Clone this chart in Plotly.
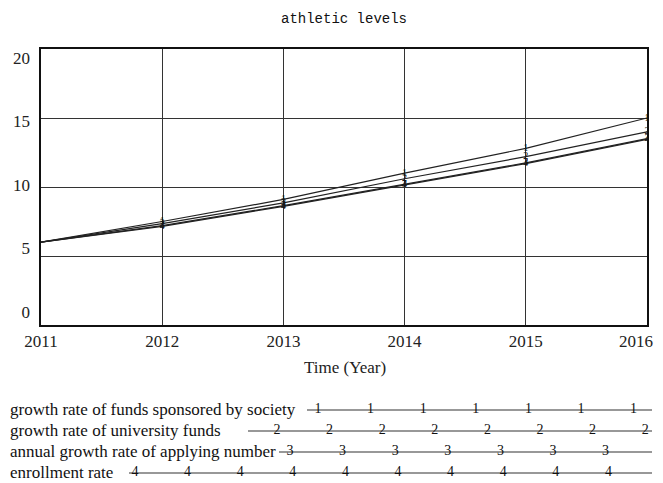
import plotly.graph_objects as go

# ---------------- data ----------------
years = [2011, 2012, 2013, 2014, 2015, 2016]
society_funds = [6.0, 7.5, 9.1, 11.0, 12.8, 15.0]
university_funds = [6.0, 7.35, 8.85, 10.6, 12.2, 14.0]
applying_growth = [6.0, 7.2, 8.65, 10.2, 11.75, 13.5]
enrollment_rate = [6.0, 7.15, 8.6, 10.15, 11.7, 13.45]

series_names = [
    "growth rate of funds sponsored by society",
    "growth rate of university funds",
    "annual growth rate of applying number",
    "enrollment rate",
]
series_digits = ["1", "2", "3", "4"]
series_values = [society_funds, university_funds, applying_growth, enrollment_rate]

y_ticks = [0, 5, 10, 15, 20]
x_ticks = years
x_tick_labels = [str(v) for v in x_ticks]

# ---------------- layout constants (page pixels) ----------------
OFF = 8                      # page body margin
W, H = 663 - OFF, 483 - OFF  # figure size
M_TOP, M_BOT = 49 - OFF, 2
PH = H - M_TOP - M_BOT
X_LEFT, X_RIGHT = 41, 647
Y_TOP, Y_BOTTOM = 49, 325
VISIBLE_RIGHT = 655
SERIF = "Liberation Serif, Times New Roman, serif"
FONT_SIZE = 17
CLEAR = "rgba(0,0,0,0)"


def px(p):
    return (p - OFF) / W


def py(p):
    return (H - M_BOT - (p - OFF)) / PH


# legend rows (page pixels)
leg_rows_y = [410, 431, 452, 473]
leg_line_start = [307, 248, 279, 129]
leg_first_digit = [318, 277, 290, 135]
leg_digit_count = [7, 8, 7, 10]
leg_spacing = 52.6
leg_line_end = 652

fig = go.Figure()

# invisible carrier for the tick-label axis (drawn first, underneath)
fig.add_trace(go.Scatter(x=[years[0]], y=[y_ticks[0]], mode="markers",
                         marker=dict(opacity=0), showlegend=False,
                         hoverinfo="skip", xaxis="x3", yaxis="y3"))

for name, dig, vals in zip(series_names, series_digits, series_values):
    fig.add_trace(go.Scatter(
        x=years, y=vals, mode="lines+text", name=name,
        text=[""] + [dig] * (len(years) - 1),
        textposition="middle center",
        textfont=dict(family=SERIF, size=10, color="#111"),
        line=dict(color="#222", width=1.2),
        showlegend=False, hoverinfo="skip",
        xaxis="x", yaxis="y",
    ))

# custom legend below
for i, (name, dig) in enumerate(zip(series_names, series_digits)):
    ry = leg_rows_y[i]
    dx = [leg_first_digit[i] + k * leg_spacing for k in range(leg_digit_count[i])]
    xs = [leg_line_start[i]] + dx + [leg_line_end]
    txt = [""] + [dig] * len(dx) + [""]
    fig.add_trace(go.Scatter(
        x=xs, y=[ry] * len(xs), mode="lines+text", text=txt,
        textposition="middle center",
        textfont=dict(family=SERIF, size=14, color="#111"),
        line=dict(color="#333", width=1.2),
        showlegend=False, hoverinfo="skip",
        xaxis="x2", yaxis="y2",
    ))
    fig.add_annotation(
        x=8, y=ry, xref="x2", yref="y2", text=name, showarrow=False,
        xanchor="left", yanchor="middle",
        font=dict(family=SERIF, size=FONT_SIZE, color="#111"),
    )

# last x tick label sits at the right edge: draw it right-aligned so it stays visible
fig.add_annotation(
    x=px(VISIBLE_RIGHT), y=py(341), xref="paper", yref="paper",
    text=x_tick_labels[-1], showarrow=False, xanchor="right", yanchor="middle",
    font=dict(family=SERIF, size=FONT_SIZE, color="#222"),
)

fig.add_annotation(
    x=px(345), y=py(367), xref="paper", yref="paper", text="Time (Year)",
    showarrow=False, xanchor="center", yanchor="middle",
    font=dict(family=SERIF, size=FONT_SIZE, color="#222"),
)

leg_dom_top = 0.33
leg_bottom_page = H - M_BOT + OFF

fig.update_layout(
    width=W, height=H,
    margin=dict(l=0, r=0, t=M_TOP, b=M_BOT, autoexpand=False),
    paper_bgcolor="white", plot_bgcolor=CLEAR,
    title=dict(text="athletic levels", x=px(344), xanchor="center",
               y=1 - (18 - OFF) / H, yanchor="middle", yref="container",
               font=dict(family="Liberation Mono, DejaVu Sans Mono, monospace",
                         size=14, color="#111")),
    xaxis=dict(
        domain=[px(X_LEFT), px(X_RIGHT)], range=[2011, 2016],
        tickvals=x_ticks, ticktext=x_tick_labels[:-1] + [""],
        showgrid=True, gridcolor="#333", gridwidth=1.2,
        showline=True, linecolor="#111", linewidth=2, mirror=True,
        ticks="", zeroline=False, automargin=False,
        ticklabeloverflow="allow",
        tickfont=dict(family=SERIF, size=FONT_SIZE, color="#222"),
        anchor="y",
    ),
    yaxis=dict(
        domain=[py(Y_BOTTOM), py(Y_TOP)], range=[0, 20],
        tickvals=y_ticks, showticklabels=False,
        showgrid=True, gridcolor="#333", gridwidth=1.2,
        showline=True, linecolor="#111", linewidth=2, mirror=True,
        ticks="", zeroline=False, automargin=False,
        anchor="x",
    ),
    xaxis3=dict(domain=[px(X_LEFT), px(X_RIGHT)], range=[2011, 2016],
                visible=False, anchor="y3"),
    yaxis3=dict(
        domain=[py(312), py(58)], range=[0, 20], tickvals=y_ticks,
        showgrid=False, showline=False, zeroline=False, ticks="",
        ticklabelstandoff=10, automargin=False,
        tickfont=dict(family=SERIF, size=FONT_SIZE, color="#222"),
        anchor="x3",
    ),
    xaxis2=dict(domain=[0, 1], range=[OFF, OFF + W], visible=False, anchor="y2"),
    yaxis2=dict(domain=[0, leg_dom_top],
                range=[leg_bottom_page, leg_bottom_page - leg_dom_top * PH],
                visible=False, anchor="x2"),
)

fig.write_html("out.html")
